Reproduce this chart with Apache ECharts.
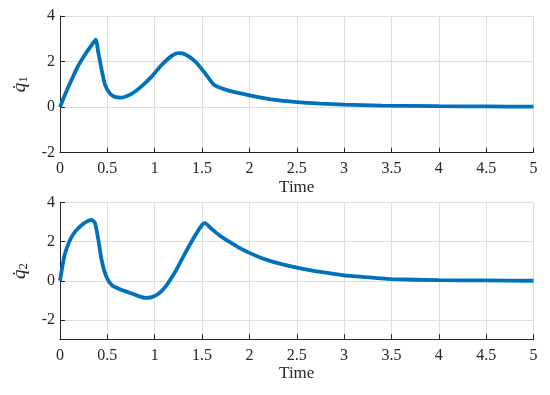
<!DOCTYPE html>
<html>
<head>
<meta charset="utf-8">
<script src="https://cdn.jsdelivr.net/npm/echarts@6/dist/echarts.min.js"></script>
<style>html,body{margin:0;padding:0;background:#fff;}#c{width:550px;height:395px;}</style>
</head>
<body>
<div id="c"></div>
<script>
const xTicks = [0, 0.5, 1, 1.5, 2, 2.5, 3, 3.5, 4, 4.5, 5];
const yTicks = [-2, 0, 2, 4];
const t1 = [0,0.05,0.12,0.19,0.26,0.33,0.377,0.405,0.44,0.475,0.53,0.58,0.65,0.76,0.86,0.97,1.07,1.18,1.25,1.32,1.43,1.53,1.62,1.67,1.8,2.0,2.25,2.5,2.75,3.0,3.4,4.0,4.5,5.0];
const q1 = [0,0.52,1.18,1.8,2.28,2.7,2.96,2.38,1.64,0.99,0.58,0.45,0.42,0.59,0.91,1.35,1.84,2.25,2.37,2.32,2.0,1.5,1.0,0.88,0.7,0.52,0.33,0.22,0.15,0.11,0.07,0.04,0.03,0.02];
const t2 = [0,0.05,0.106,0.16,0.23,0.3,0.335,0.37,0.405,0.44,0.49,0.55,0.62,0.72,0.83,0.9,0.97,1.04,1.11,1.215,1.32,1.43,1.5,1.53,1.6,1.69,1.76,1.83,1.91,2.0,2.12,2.25,2.5,2.75,3.0,3.35,3.5,4.0,4.5,5.0];
const q2 = [0,1.35,2.09,2.52,2.86,3.08,3.12,2.95,2.09,1.05,0.2,-0.24,-0.41,-0.59,-0.79,-0.88,-0.84,-0.67,-0.33,0.45,1.4,2.34,2.86,2.95,2.66,2.31,2.08,1.88,1.65,1.43,1.18,0.97,0.67,0.45,0.28,0.14,0.08,0.03,0.02,0.0];

const serif = '"Liberation Serif", "Times New Roman", serif';
const ink = '#262626';
function xAx(gi) {
  return {
    type: 'value', gridIndex: gi, min: 0, max: 5, interval: 0.5,
    name: 'Time', nameLocation: 'middle', nameGap: 26,
    nameTextStyle: { fontFamily: serif, fontSize: 17, color: ink },
    axisLine: { show: true, onZero: false, lineStyle: { color: ink, width: 1 } },
    axisTick: { show: true, inside: true, length: 5, customValues: xTicks, lineStyle: { color: ink } },
    axisLabel: { fontFamily: serif, fontSize: 16, color: ink, margin: 8, customValues: xTicks,
      formatter: v => String(v) },
    splitLine: { show: true, lineStyle: { color: '#dedede', width: 1 } }
  };
}
function yAx(gi, min, sub) {
  return {
    type: 'value', gridIndex: gi, min: min, max: 4, interval: 1,
    name: '{q|q\u0307}{s|' + sub + '}', nameLocation: 'middle', nameGap: 30, nameRotate: 90,
    nameTextStyle: { rich: {
      q: { fontFamily: serif, fontStyle: 'italic', fontSize: 19, color: ink, lineHeight: 20 },
      s: { fontFamily: serif, fontSize: 13, color: ink, lineHeight: 20, verticalAlign: 'bottom', padding: [6, 0, 0, 0] }
    } },
    axisLine: { show: true, onZero: false, lineStyle: { color: ink, width: 1 } },
    axisTick: { show: true, inside: true, length: 5, customValues: yTicks, lineStyle: { color: ink } },
    axisLabel: { fontFamily: serif, fontSize: 16, color: ink, margin: 5, customValues: yTicks },
    splitLine: { show: true, lineStyle: { color: '#dedede', width: 1 } }
  };
}
const chart = echarts.init(document.getElementById('c'), null, { renderer: 'canvas' });
chart.setOption({
  animation: false,
  backgroundColor: '#fff',
  grid: [
    { left: 60, top: 16, width: 473.5, height: 136.7 },
    { left: 60, top: 202.7, width: 473.5, height: 136.6 }
  ],
  xAxis: [xAx(0), xAx(1)],
  yAxis: [yAx(0, -2, '1'), yAx(1, -3, '2')],
  series: [
    { type: 'line', xAxisIndex: 0, yAxisIndex: 0, data: t1.map((t, i) => [t, q1[i]]),
      showSymbol: false, smooth: 0.2,
      lineStyle: { color: '#0072BD', width: 3.8 } },
    { type: 'line', xAxisIndex: 1, yAxisIndex: 1, data: t2.map((t, i) => [t, q2[i]]),
      showSymbol: false, smooth: 0.2,
      lineStyle: { color: '#0072BD', width: 3.8 } }
  ]
});
</script>
</body>
</html>
